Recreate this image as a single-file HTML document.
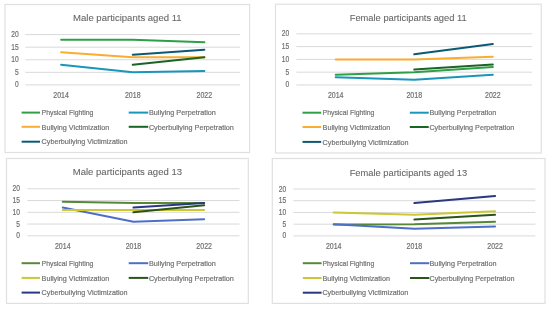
<!DOCTYPE html>
<html><head><meta charset="utf-8"><style>
html,body{margin:0;padding:0;background:#fff;}
body{width:550px;height:309px;overflow:hidden;}
svg{display:block;will-change:transform;}
text{fill:#707070;stroke:#707070;stroke-width:0.2px;}
text.t{fill:#666;stroke:#666;stroke-width:0.08px;}
svg{font-family:"Liberation Sans",sans-serif;}
</style></head><body>
<svg width="550" height="309" viewBox="0 0 550 309">
<rect width="550" height="309" fill="#fff"/>
<rect x="5" y="4.5" width="244.6" height="148" fill="#fff" stroke="#e0e0e0" stroke-width="1.2"/>
<text x="73" y="21" font-size="9.4" class="t" textLength="108.6" lengthAdjust="spacingAndGlyphs">Male participants aged 11</text>
<line x1="25.3" y1="84.9" x2="240.2" y2="84.9" stroke="#d9d9d9" stroke-width="1"/>
<text x="18.6" y="87.4" font-size="8.3" fill="#595959" text-anchor="end" textLength="3.7" lengthAdjust="spacingAndGlyphs">0</text>
<line x1="25.3" y1="72.33" x2="240.2" y2="72.33" stroke="#d9d9d9" stroke-width="1"/>
<text x="18.6" y="74.83" font-size="8.3" fill="#595959" text-anchor="end" textLength="3.7" lengthAdjust="spacingAndGlyphs">5</text>
<line x1="25.3" y1="59.75" x2="240.2" y2="59.75" stroke="#d9d9d9" stroke-width="1"/>
<text x="18.6" y="62.25" font-size="8.3" fill="#595959" text-anchor="end" textLength="7.4" lengthAdjust="spacingAndGlyphs">10</text>
<line x1="25.3" y1="47.18" x2="240.2" y2="47.18" stroke="#d9d9d9" stroke-width="1"/>
<text x="18.6" y="49.68" font-size="8.3" fill="#595959" text-anchor="end" textLength="7.4" lengthAdjust="spacingAndGlyphs">15</text>
<line x1="25.3" y1="34.6" x2="240.2" y2="34.6" stroke="#d9d9d9" stroke-width="1"/>
<text x="18.6" y="37.1" font-size="8.3" fill="#595959" text-anchor="end" textLength="7.4" lengthAdjust="spacingAndGlyphs">20</text>
<text x="61.12" y="97.9" font-size="8.4" fill="#595959" text-anchor="middle" textLength="15.6" lengthAdjust="spacingAndGlyphs">2014</text>
<text x="132.75" y="97.9" font-size="8.4" fill="#595959" text-anchor="middle" textLength="15.6" lengthAdjust="spacingAndGlyphs">2018</text>
<text x="204.38" y="97.9" font-size="8.4" fill="#595959" text-anchor="middle" textLength="15.6" lengthAdjust="spacingAndGlyphs">2022</text>
<polyline points="61.12,39.63 132.75,39.63 204.38,42.15" fill="none" stroke="#2E9F47" stroke-width="2" stroke-linejoin="round" stroke-linecap="round"/>
<polyline points="61.12,64.78 132.75,72.33 204.38,71.07" fill="none" stroke="#1896BC" stroke-width="2" stroke-linejoin="round" stroke-linecap="round"/>
<polyline points="61.12,52.21 132.75,57.23 204.38,57.23" fill="none" stroke="#F9AD31" stroke-width="2" stroke-linejoin="round" stroke-linecap="round"/>
<polyline points="132.75,64.78 204.38,57.23" fill="none" stroke="#1B6524" stroke-width="2" stroke-linejoin="round" stroke-linecap="round"/>
<polyline points="132.75,54.72 204.38,49.69" fill="none" stroke="#0B5A74" stroke-width="2" stroke-linejoin="round" stroke-linecap="round"/>
<line x1="21.6" y1="112.6" x2="40" y2="112.6" stroke="#2E9F47" stroke-width="2"/>
<text x="41.6" y="115.3" font-size="8.1" fill="#595959" textLength="51.8" lengthAdjust="spacingAndGlyphs">Physical Fighting</text>
<line x1="128.7" y1="112.6" x2="148.2" y2="112.6" stroke="#1896BC" stroke-width="2"/>
<text x="148.9" y="115.3" font-size="8.1" fill="#595959" textLength="67" lengthAdjust="spacingAndGlyphs">Bullying Perpetration</text>
<line x1="21.6" y1="126.8" x2="40" y2="126.8" stroke="#F9AD31" stroke-width="2"/>
<text x="41.6" y="129.5" font-size="8.1" fill="#595959" textLength="67.6" lengthAdjust="spacingAndGlyphs">Bullying Victimization</text>
<line x1="128.7" y1="126.8" x2="148.2" y2="126.8" stroke="#1B6524" stroke-width="2"/>
<text x="148.9" y="129.5" font-size="8.1" fill="#595959" textLength="85" lengthAdjust="spacingAndGlyphs">Cyberbullying Perpetration</text>
<line x1="21.6" y1="141.7" x2="40" y2="141.7" stroke="#0B5A74" stroke-width="2"/>
<text x="41.6" y="144.4" font-size="8.1" fill="#595959" textLength="86" lengthAdjust="spacingAndGlyphs">Cyberbullying Victimization</text>
<rect x="275.5" y="4.2" width="265.7" height="148.8" fill="#fff" stroke="#e0e0e0" stroke-width="1.2"/>
<text x="349.7" y="20.9" font-size="9.4" class="t" textLength="117" lengthAdjust="spacingAndGlyphs">Female participants aged 11</text>
<line x1="296.4" y1="84.95" x2="532.1" y2="84.95" stroke="#d9d9d9" stroke-width="1"/>
<text x="289.1" y="87.45" font-size="8.3" fill="#595959" text-anchor="end" textLength="3.7" lengthAdjust="spacingAndGlyphs">0</text>
<line x1="296.4" y1="72.17" x2="532.1" y2="72.17" stroke="#d9d9d9" stroke-width="1"/>
<text x="289.1" y="74.67" font-size="8.3" fill="#595959" text-anchor="end" textLength="3.7" lengthAdjust="spacingAndGlyphs">5</text>
<line x1="296.4" y1="59.4" x2="532.1" y2="59.4" stroke="#d9d9d9" stroke-width="1"/>
<text x="289.1" y="61.9" font-size="8.3" fill="#595959" text-anchor="end" textLength="7.4" lengthAdjust="spacingAndGlyphs">10</text>
<line x1="296.4" y1="46.62" x2="532.1" y2="46.62" stroke="#d9d9d9" stroke-width="1"/>
<text x="289.1" y="49.12" font-size="8.3" fill="#595959" text-anchor="end" textLength="7.4" lengthAdjust="spacingAndGlyphs">15</text>
<line x1="296.4" y1="33.85" x2="532.1" y2="33.85" stroke="#d9d9d9" stroke-width="1"/>
<text x="289.1" y="36.35" font-size="8.3" fill="#595959" text-anchor="end" textLength="7.4" lengthAdjust="spacingAndGlyphs">20</text>
<text x="335.68" y="97.9" font-size="8.4" fill="#595959" text-anchor="middle" textLength="15.6" lengthAdjust="spacingAndGlyphs">2014</text>
<text x="414.25" y="97.9" font-size="8.4" fill="#595959" text-anchor="middle" textLength="15.6" lengthAdjust="spacingAndGlyphs">2018</text>
<text x="492.82" y="97.9" font-size="8.4" fill="#595959" text-anchor="middle" textLength="15.6" lengthAdjust="spacingAndGlyphs">2022</text>
<polyline points="335.68,74.73 414.25,72.17 492.82,67.06" fill="none" stroke="#2E9F47" stroke-width="2" stroke-linejoin="round" stroke-linecap="round"/>
<polyline points="335.68,77.28 414.25,79.84 492.82,74.73" fill="none" stroke="#1896BC" stroke-width="2" stroke-linejoin="round" stroke-linecap="round"/>
<polyline points="335.68,59.4 414.25,59.4 492.82,56.84" fill="none" stroke="#F9AD31" stroke-width="2" stroke-linejoin="round" stroke-linecap="round"/>
<polyline points="414.25,69.62 492.82,64.51" fill="none" stroke="#1B6524" stroke-width="2" stroke-linejoin="round" stroke-linecap="round"/>
<polyline points="414.25,54.29 492.82,44.07" fill="none" stroke="#0B5A74" stroke-width="2" stroke-linejoin="round" stroke-linecap="round"/>
<line x1="302.5" y1="112.7" x2="321.2" y2="112.7" stroke="#2E9F47" stroke-width="2"/>
<text x="322.6" y="115.4" font-size="8.1" fill="#595959" textLength="51.8" lengthAdjust="spacingAndGlyphs">Physical Fighting</text>
<line x1="409.8" y1="112.7" x2="428.7" y2="112.7" stroke="#1896BC" stroke-width="2"/>
<text x="429.4" y="115.4" font-size="8.1" fill="#595959" textLength="67" lengthAdjust="spacingAndGlyphs">Bullying Perpetration</text>
<line x1="302.5" y1="127" x2="321.2" y2="127" stroke="#F9AD31" stroke-width="2"/>
<text x="322.6" y="129.7" font-size="8.1" fill="#595959" textLength="67.6" lengthAdjust="spacingAndGlyphs">Bullying Victimization</text>
<line x1="409.8" y1="127" x2="428.7" y2="127" stroke="#1B6524" stroke-width="2"/>
<text x="429.4" y="129.7" font-size="8.1" fill="#595959" textLength="85" lengthAdjust="spacingAndGlyphs">Cyberbullying Perpetration</text>
<line x1="302.5" y1="141.9" x2="321.2" y2="141.9" stroke="#0B5A74" stroke-width="2"/>
<text x="322.6" y="144.6" font-size="8.1" fill="#595959" textLength="86" lengthAdjust="spacingAndGlyphs">Cyberbullying Victimization</text>
<rect x="6.5" y="158.5" width="241.8" height="144.9" fill="#fff" stroke="#e0e0e0" stroke-width="1.2"/>
<text x="72.7" y="175.3" font-size="9.4" class="t" textLength="109.4" lengthAdjust="spacingAndGlyphs">Male participants aged 13</text>
<line x1="27.4" y1="235.8" x2="239.5" y2="235.8" stroke="#d9d9d9" stroke-width="1"/>
<text x="20" y="238.3" font-size="8.3" fill="#595959" text-anchor="end" textLength="3.7" lengthAdjust="spacingAndGlyphs">0</text>
<line x1="27.4" y1="224.05" x2="239.5" y2="224.05" stroke="#d9d9d9" stroke-width="1"/>
<text x="20" y="226.55" font-size="8.3" fill="#595959" text-anchor="end" textLength="3.7" lengthAdjust="spacingAndGlyphs">5</text>
<line x1="27.4" y1="212.3" x2="239.5" y2="212.3" stroke="#d9d9d9" stroke-width="1"/>
<text x="20" y="214.8" font-size="8.3" fill="#595959" text-anchor="end" textLength="7.4" lengthAdjust="spacingAndGlyphs">10</text>
<line x1="27.4" y1="200.55" x2="239.5" y2="200.55" stroke="#d9d9d9" stroke-width="1"/>
<text x="20" y="203.05" font-size="8.3" fill="#595959" text-anchor="end" textLength="7.4" lengthAdjust="spacingAndGlyphs">15</text>
<line x1="27.4" y1="188.8" x2="239.5" y2="188.8" stroke="#d9d9d9" stroke-width="1"/>
<text x="20" y="191.3" font-size="8.3" fill="#595959" text-anchor="end" textLength="7.4" lengthAdjust="spacingAndGlyphs">20</text>
<text x="62.75" y="249" font-size="8.4" fill="#595959" text-anchor="middle" textLength="15.6" lengthAdjust="spacingAndGlyphs">2014</text>
<text x="133.45" y="249" font-size="8.4" fill="#595959" text-anchor="middle" textLength="15.6" lengthAdjust="spacingAndGlyphs">2018</text>
<text x="204.15" y="249" font-size="8.4" fill="#595959" text-anchor="middle" textLength="15.6" lengthAdjust="spacingAndGlyphs">2022</text>
<polyline points="62.75,201.73 133.45,202.9 204.15,202.9" fill="none" stroke="#568838" stroke-width="2" stroke-linejoin="round" stroke-linecap="round"/>
<polyline points="62.75,207.6 133.45,221.7 204.15,219.35" fill="none" stroke="#4D6FC6" stroke-width="2" stroke-linejoin="round" stroke-linecap="round"/>
<polyline points="62.75,209.95 133.45,209.95 204.15,209.95" fill="none" stroke="#CCC732" stroke-width="2" stroke-linejoin="round" stroke-linecap="round"/>
<polyline points="133.45,212.3 204.15,205.25" fill="none" stroke="#2A5518" stroke-width="2" stroke-linejoin="round" stroke-linecap="round"/>
<polyline points="133.45,207.6 204.15,202.9" fill="none" stroke="#2A3782" stroke-width="2" stroke-linejoin="round" stroke-linecap="round"/>
<line x1="21.6" y1="263.2" x2="40" y2="263.2" stroke="#568838" stroke-width="2"/>
<text x="41.6" y="265.9" font-size="8.1" fill="#595959" textLength="51.8" lengthAdjust="spacingAndGlyphs">Physical Fighting</text>
<line x1="128.7" y1="263.2" x2="148.2" y2="263.2" stroke="#4D6FC6" stroke-width="2"/>
<text x="148.9" y="265.9" font-size="8.1" fill="#595959" textLength="67" lengthAdjust="spacingAndGlyphs">Bullying Perpetration</text>
<line x1="21.6" y1="277.9" x2="40" y2="277.9" stroke="#CCC732" stroke-width="2"/>
<text x="41.6" y="280.6" font-size="8.1" fill="#595959" textLength="67.6" lengthAdjust="spacingAndGlyphs">Bullying Victimization</text>
<line x1="128.7" y1="277.9" x2="148.2" y2="277.9" stroke="#2A5518" stroke-width="2"/>
<text x="148.9" y="280.6" font-size="8.1" fill="#595959" textLength="85" lengthAdjust="spacingAndGlyphs">Cyberbullying Perpetration</text>
<line x1="21.6" y1="292.6" x2="40" y2="292.6" stroke="#2A3782" stroke-width="2"/>
<text x="41.6" y="295.3" font-size="8.1" fill="#595959" textLength="86" lengthAdjust="spacingAndGlyphs">Cyberbullying Victimization</text>
<rect x="272.3" y="158.5" width="272.7" height="144.9" fill="#fff" stroke="#e0e0e0" stroke-width="1.2"/>
<text x="349.7" y="175.9" font-size="9.4" class="t" textLength="117.5" lengthAdjust="spacingAndGlyphs">Female participants aged 13</text>
<line x1="293.4" y1="235.9" x2="535.4" y2="235.9" stroke="#d9d9d9" stroke-width="1"/>
<text x="286.1" y="238.4" font-size="8.3" fill="#595959" text-anchor="end" textLength="3.7" lengthAdjust="spacingAndGlyphs">0</text>
<line x1="293.4" y1="224.18" x2="535.4" y2="224.18" stroke="#d9d9d9" stroke-width="1"/>
<text x="286.1" y="226.68" font-size="8.3" fill="#595959" text-anchor="end" textLength="3.7" lengthAdjust="spacingAndGlyphs">5</text>
<line x1="293.4" y1="212.45" x2="535.4" y2="212.45" stroke="#d9d9d9" stroke-width="1"/>
<text x="286.1" y="214.95" font-size="8.3" fill="#595959" text-anchor="end" textLength="7.4" lengthAdjust="spacingAndGlyphs">10</text>
<line x1="293.4" y1="200.72" x2="535.4" y2="200.72" stroke="#d9d9d9" stroke-width="1"/>
<text x="286.1" y="203.22" font-size="8.3" fill="#595959" text-anchor="end" textLength="7.4" lengthAdjust="spacingAndGlyphs">15</text>
<line x1="293.4" y1="189" x2="535.4" y2="189" stroke="#d9d9d9" stroke-width="1"/>
<text x="286.1" y="191.5" font-size="8.3" fill="#595959" text-anchor="end" textLength="7.4" lengthAdjust="spacingAndGlyphs">20</text>
<text x="333.73" y="249" font-size="8.4" fill="#595959" text-anchor="middle" textLength="15.6" lengthAdjust="spacingAndGlyphs">2014</text>
<text x="414.4" y="249" font-size="8.4" fill="#595959" text-anchor="middle" textLength="15.6" lengthAdjust="spacingAndGlyphs">2018</text>
<text x="495.07" y="249" font-size="8.4" fill="#595959" text-anchor="middle" textLength="15.6" lengthAdjust="spacingAndGlyphs">2022</text>
<polyline points="333.73,224.41 414.4,224.18 495.07,221.83" fill="none" stroke="#568838" stroke-width="2" stroke-linejoin="round" stroke-linecap="round"/>
<polyline points="333.73,224.18 414.4,228.87 495.07,226.52" fill="none" stroke="#4D6FC6" stroke-width="2" stroke-linejoin="round" stroke-linecap="round"/>
<polyline points="333.73,212.45 414.4,214.8 495.07,211.28" fill="none" stroke="#CCC732" stroke-width="2" stroke-linejoin="round" stroke-linecap="round"/>
<polyline points="414.4,219.49 495.07,214.8" fill="none" stroke="#2A5518" stroke-width="2" stroke-linejoin="round" stroke-linecap="round"/>
<polyline points="414.4,203.07 495.07,196.03" fill="none" stroke="#2A3782" stroke-width="2" stroke-linejoin="round" stroke-linecap="round"/>
<line x1="302.8" y1="263.2" x2="321.6" y2="263.2" stroke="#568838" stroke-width="2"/>
<text x="322.4" y="265.9" font-size="8.1" fill="#595959" textLength="51.8" lengthAdjust="spacingAndGlyphs">Physical Fighting</text>
<line x1="410" y1="263.2" x2="429.3" y2="263.2" stroke="#4D6FC6" stroke-width="2"/>
<text x="429.5" y="265.9" font-size="8.1" fill="#595959" textLength="67" lengthAdjust="spacingAndGlyphs">Bullying Perpetration</text>
<line x1="302.8" y1="278" x2="321.6" y2="278" stroke="#CCC732" stroke-width="2"/>
<text x="322.4" y="280.7" font-size="8.1" fill="#595959" textLength="67.6" lengthAdjust="spacingAndGlyphs">Bullying Victimization</text>
<line x1="410" y1="278" x2="429.3" y2="278" stroke="#2A5518" stroke-width="2"/>
<text x="429.5" y="280.7" font-size="8.1" fill="#595959" textLength="85" lengthAdjust="spacingAndGlyphs">Cyberbullying Perpetration</text>
<line x1="302.8" y1="292.7" x2="321.6" y2="292.7" stroke="#2A3782" stroke-width="2"/>
<text x="322.4" y="295.4" font-size="8.1" fill="#595959" textLength="86" lengthAdjust="spacingAndGlyphs">Cyberbullying Victimization</text>
</svg>
</body></html>
